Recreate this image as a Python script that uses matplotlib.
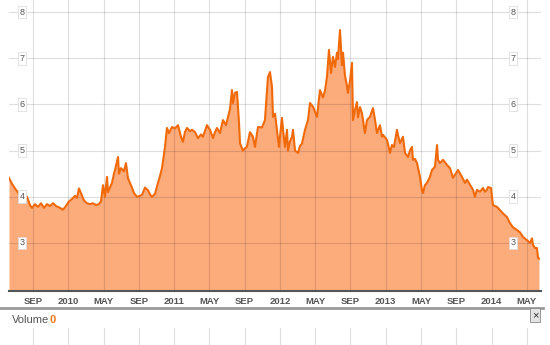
import matplotlib
matplotlib.use("Agg")
import matplotlib.pyplot as plt
from matplotlib.lines import Line2D
from matplotlib.transforms import blended_transform_factory

plt.rcParams['font.family'] = ['Liberation Sans', 'DejaVu Sans']

# months counted from Jan 2009 (Jan 2010 = 12)
months = [5.28, 5.62, 6.07, 6.53, 6.98, 7.32, 7.66, 7.89, 8.23, 8.57, 8.91, 9.25, 9.59, 9.93,
          10.27, 10.61, 11.06, 11.40, 11.74, 12.08, 12.42, 12.76, 12.99, 13.22, 13.44, 13.78,
          14.12, 14.46, 14.80, 15.14, 15.48, 15.71, 15.94, 16.16, 16.39, 16.50, 16.73, 16.96,
          17.18, 17.30, 17.64, 17.75, 17.98, 18.32, 18.54, 18.77, 19.00, 19.22, 19.45, 19.79,
          20.13, 20.36, 20.70, 21.04, 21.27, 21.49, 21.83, 22.17, 22.40, 22.63, 22.97, 23.19,
          23.42, 23.76, 24.10, 24.44, 24.78, 25.01, 25.23, 25.46, 25.80, 26.03, 26.37, 26.71,
          27.05, 27.27, 27.73, 28.07, 28.41, 28.64, 28.86, 29.20, 29.54, 29.88, 30.11, 30.34,
          30.56, 30.68, 30.90, 31.13, 31.36, 31.47, 31.81, 32.04, 32.26, 32.60, 32.94, 33.17,
          33.51, 33.96, 34.30, 34.53, 34.64, 34.87, 35.10, 35.21, 35.44, 35.66, 35.89, 36.23,
          36.35, 36.57, 36.80, 36.91, 37.14, 37.37, 37.48, 37.71, 38.05, 38.27, 38.50, 38.84,
          39.18, 39.41, 39.75, 40.20, 40.54, 40.88, 41.11, 41.33, 41.56, 41.79, 42.01, 42.24,
          42.47, 42.58, 42.81, 43.03, 43.15, 43.37, 43.60, 43.71, 43.94, 44.17, 44.28, 44.51,
          44.73, 44.85, 45.08, 45.30, 45.42, 45.64, 45.87, 46.21, 46.55, 46.78, 47.00, 47.34,
          47.57, 47.68, 48.14, 48.48, 48.70, 48.93, 49.27, 49.38, 49.61, 49.95, 50.18, 50.52,
          50.74, 50.97, 51.08, 51.31, 51.54, 51.88, 52.10, 52.22, 52.44, 52.67, 53.01, 53.24,
          53.58, 53.81, 53.92, 54.15, 54.49, 54.94, 55.28, 55.62, 56.07, 56.19, 56.64, 56.98,
          57.21, 57.55, 57.89, 58.11, 58.34, 58.68, 59.02, 59.25, 59.47, 59.59, 59.93, 60.15,
          60.61, 60.95, 61.29, 61.74, 62.08, 62.42, 62.88, 63.22, 63.56, 64.01, 64.35, 64.58,
          64.69, 64.92, 65.14, 65.26, 65.37]

price = [4.41, 4.28, 4.15, 4.04, 3.95, 4.00, 3.82, 3.76, 3.84, 3.78, 3.86, 3.76, 3.84, 3.80,
         3.86, 3.80, 3.76, 3.72, 3.80, 3.90, 3.95, 4.02, 3.98, 4.18, 4.08, 3.92,
         3.86, 3.84, 3.86, 3.82, 3.84, 3.90, 4.25, 4.00, 4.43, 4.10, 4.20, 4.30,
         4.50, 4.58, 4.86, 4.50, 4.62, 4.55, 4.73, 4.40, 4.30, 4.20, 4.08, 4.00,
         4.02, 4.04, 4.20, 4.14, 4.05, 4.00, 4.06, 4.30, 4.45, 4.62, 5.08, 5.49,
         5.38, 5.51, 5.48, 5.55, 5.30, 5.19, 5.40, 5.49, 5.42, 5.45, 5.40, 5.27,
         5.35, 5.30, 5.55, 5.45, 5.27, 5.40, 5.49, 5.38, 5.66, 5.55, 5.73, 5.90,
         6.31, 6.03, 6.25, 6.27, 5.60, 5.16, 5.00, 5.05, 5.08, 5.40, 5.30, 5.08,
         5.51, 5.50, 5.66, 6.30, 6.59, 6.70, 6.38, 5.73, 5.80, 5.45, 5.08, 5.71,
         5.45, 5.08, 5.45, 5.00, 5.20, 5.30, 5.45, 5.00, 4.95, 5.10, 5.15, 5.45,
         5.66, 6.03, 5.95, 5.73, 6.31, 6.15, 6.30, 6.59, 7.18, 6.68, 7.03, 6.81,
         7.12, 6.98, 7.61, 6.85, 7.12, 6.63, 6.40, 6.25, 6.50, 6.90, 5.66, 5.88,
         6.05, 5.72, 5.94, 5.81, 5.66, 5.38, 5.66, 5.73, 5.92, 5.66, 5.38, 5.55,
         5.30, 5.34, 5.23, 4.95, 5.12, 5.08, 5.45, 5.34, 5.16, 5.30, 4.95, 4.86,
         5.00, 5.08, 4.80, 4.82, 4.73, 4.43, 4.15, 4.08, 4.25, 4.30, 4.43, 4.58,
         4.65, 5.12, 4.80, 4.73, 4.80, 4.69, 4.62, 4.41, 4.54, 4.58, 4.43, 4.30,
         4.37, 4.26, 4.15, 4.00, 4.15, 4.11, 4.19, 4.11, 4.15, 4.21, 4.19, 3.82,
         3.78, 3.71, 3.64, 3.56, 3.43, 3.34, 3.28, 3.23, 3.13, 3.06, 3.00, 3.10,
         2.96, 2.89, 2.89, 2.68, 2.66]

tick_months = [8, 12, 16, 20, 24, 28, 32, 36, 40, 44, 48, 52, 56, 60, 64]
tick_labels = ['SEP', '2010', 'MAY', 'SEP', '2011', 'MAY', 'SEP', '2012', 'MAY', 'SEP',
               '2013', 'MAY', 'SEP', '2014', 'MAY']
y_ticks = [3, 4, 5, 6, 7, 8]

W, H = 550, 345
fig = plt.figure(figsize=(5.5, 3.45), dpi=100)

x0, x1 = 9, 541
ax = fig.add_axes([x0 / W, (H - 291) / H, (x1 - x0) / W, 291 / H])
ax.set_xlim(5.28, 65.60)
ax.set_ylim(1.96, 8.26)

ax.fill_between(months, price, 1.96, color='#fcab7b', lw=0, zorder=1)
for m in tick_months:
    ax.axvline(m, color='black', alpha=0.13, lw=0.8, zorder=2)
for v in y_ticks:
    ax.axhline(v, color='black', alpha=0.13, lw=0.8, zorder=2)
ax.plot(months, price, color='#f06a0a', lw=1.5, zorder=3)

ax.set_xticks(tick_months)
ax.set_xticklabels(tick_labels, fontsize=6.8, fontweight='bold', color='#555555')
ax.tick_params(axis='x', length=0, pad=4)
ax.set_yticks([])
for s in ['top', 'left', 'right']:
    ax.spines[s].set_visible(False)
ax.spines['bottom'].set_color('#555555')
ax.spines['bottom'].set_linewidth(1.5)

tr = blended_transform_factory(ax.transAxes, ax.transData)
for v in y_ticks:
    for xa in [(22 - x0) / (x1 - x0), (513 - x0) / (x1 - x0)]:
        ax.text(xa, v, str(v), transform=tr, ha='center', va='center', fontsize=6.5,
                color='#555555', zorder=4,
                bbox=dict(boxstyle='square,pad=0.2', fc='white', ec='#d8d8d8', lw=0.5))

# separator and volume panel
fig.add_artist(Line2D([0, 543 / W], [(H - 308) / H] * 2, color='#9a9a9a', lw=2))
fig.text(12 / W, (H - 320) / H, 'Volume', fontsize=8, color='#555555', va='center')
fig.text(50 / W, (H - 320) / H, '0', fontsize=8, color='#f07a20', fontweight='bold', va='center')
fig.text(535 / W, (H - 315) / H, '×', fontsize=8, color='#333333', ha='center', va='center',
         bbox=dict(boxstyle='square,pad=0.15', fc='#e4e4e4', ec='#888888', lw=0.6))

vax = fig.add_axes([x0 / W, 0, (x1 - x0) / W, (H - 328) / H])
vax.set_xlim(5.28, 65.60)
for m in tick_months:
    vax.axvline(m, color='black', alpha=0.13, lw=0.8)
vax.axis('off')

fig.savefig('out.png', dpi=100)
